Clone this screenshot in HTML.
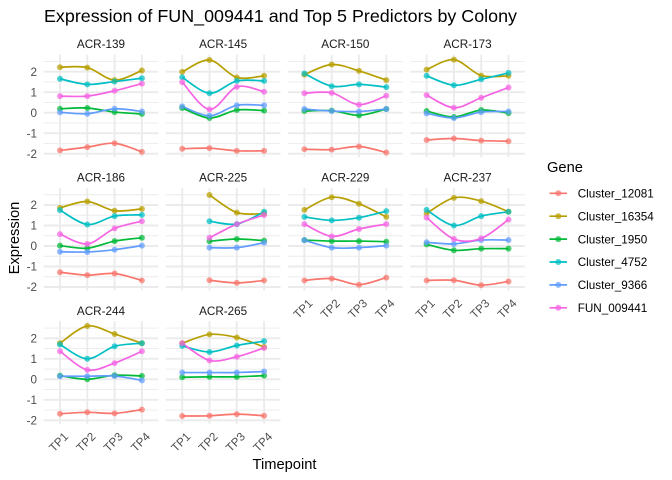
<!DOCTYPE html>
<html><head><meta charset="utf-8"><style>
html,body{margin:0;padding:0;background:#fff;}
svg{display:block;font-family:"Liberation Sans",Arial,sans-serif;}
</style></head><body>
<svg id="c" width="672" height="480" viewBox="0 0 672 480" xmlns="http://www.w3.org/2000/svg"></svg>
<script>
(function(){
var cols=["#F8766D","#B79F00","#00BA38","#00BFC4","#619CFF","#F564E3"];
var names=["Cluster_12081","Cluster_16354","Cluster_1950","Cluster_4752","Cluster_9366","FUN_009441"];
var N=null;
var panels=[
["ACR-139",[[-1.84,-1.68,-1.49,-1.91],[2.22,2.20,1.59,2.06],[0.19,0.23,0.03,-0.06],[1.65,1.38,1.52,1.68],[0.02,-0.05,0.19,0.06],[0.81,0.81,1.07,1.42]]],
["ACR-145",[[-1.76,-1.73,-1.86,-1.86],[1.99,2.57,1.72,1.80],[0.23,-0.26,0.13,0.10],[1.73,0.95,1.55,1.55],[0.31,-0.15,0.36,0.36],[1.49,0.16,1.26,1.02]]],
["ACR-150",[[-1.78,-1.80,-1.65,-1.94],[1.86,2.35,2.04,1.59],[0.08,0.10,-0.13,0.18],[1.91,1.29,1.38,1.25],[0.18,0.08,0.06,0.18],[0.95,0.97,0.39,0.83]]],
["ACR-173",[[-1.33,-1.26,-1.36,-1.39],[2.10,2.59,1.81,1.80],[0.08,-0.21,0.13,-0.02],[1.80,1.34,1.63,1.94],[-0.03,-0.26,0.03,0.06],[0.86,0.24,0.73,1.23]]],
["ACR-186",[[-1.28,-1.42,-1.34,-1.68],[1.86,2.17,1.72,1.81],[0.02,-0.11,0.24,0.40],[1.75,1.05,1.46,1.52],[-0.28,-0.29,-0.18,0.02],[0.58,0.10,0.86,1.21]]],
["ACR-225",[[N,-1.67,-1.80,-1.68],[N,2.49,1.63,1.58],[N,0.23,0.34,0.26],[N,1.21,1.07,1.67],[N,-0.08,-0.08,0.16],[N,0.40,1.07,1.51]]],
["ACR-229",[[-1.68,-1.59,-1.89,-1.54],[1.76,2.38,2.06,1.42],[0.29,0.24,0.24,0.21],[1.42,1.25,1.38,1.70],[0.28,-0.08,-0.08,0.02],[1.07,0.47,0.83,1.07]]],
["ACR-237",[[-1.68,-1.67,-1.91,-1.73],[1.59,2.35,2.19,1.67],[0.08,-0.21,-0.13,-0.13],[1.76,1.00,1.46,1.67],[0.18,0.10,0.29,0.29],[1.39,0.34,0.37,1.29]]],
["ACR-244",[[-1.68,-1.61,-1.66,-1.48],[1.76,2.60,2.21,1.76],[0.18,0.0,0.20,0.16],[1.70,1.00,1.61,1.76],[0.15,0.15,0.16,-0.05],[1.37,0.46,0.79,1.37]]],
["ACR-265",[[-1.79,-1.78,-1.70,-1.78],[1.76,2.19,2.04,1.58],[0.10,0.12,0.12,0.18],[1.63,1.33,1.65,1.86],[0.33,0.33,0.33,0.38],[1.76,0.92,1.10,1.53]]]
];
var X0=60,DX=27.3,CW=122.2,U=20.5,RH=133.3;
var s=[];
function f(v){return Math.round(v*100)/100;}
function smooth(p){
  if(p.length<2)return "";
  var t=0.16,d="M"+f(p[0][0])+","+f(p[0][1]);
  for(var i=0;i<p.length-1;i++){
    var p0=p[i-1]||p[i],p1=p[i],p2=p[i+1],p3=p[i+2]||p[i+1];
    var c1x=p1[0]+(p2[0]-p0[0])*t,c1y=p1[1]+(p2[1]-p0[1])*t;
    var c2x=p2[0]-(p3[0]-p1[0])*t,c2y=p2[1]-(p3[1]-p1[1])*t;
    d+=" C"+f(c1x)+","+f(c1y)+" "+f(c2x)+","+f(c2y)+" "+f(p2[0])+","+f(p2[1]);
  }
  return d;
}
s.push('<text x="44" y="22" font-size="17.6" fill="#000" textLength="473" lengthAdjust="spacingAndGlyphs">Expression of FUN_009441 and Top 5 Predictors by Colony</text>');
for(var k=0;k<panels.length;k++){
  var r=Math.floor(k/4),c=k%4;
  var Z=112.7+RH*r;
  var L=X0-0.6*DX+CW*c,R=L+4.2*DX,T=Z-2.83*U,B=Z+2.17*U;
  [-1.5,-0.5,0.5,1.5,2.5].forEach(function(v){var y=f(Z-v*U);s.push('<line x1="'+f(L)+'" x2="'+f(R)+'" y1="'+y+'" y2="'+y+'" stroke="#EBEBEB" stroke-width="0.95"/>');});
  [-2,-1,0,1,2].forEach(function(v){var y=f(Z-v*U);s.push('<line x1="'+f(L)+'" x2="'+f(R)+'" y1="'+y+'" y2="'+y+'" stroke="#EBEBEB" stroke-width="1.9"/>');});
  for(var i=0;i<4;i++){var x=f(X0+CW*c+DX*i);s.push('<line x1="'+x+'" x2="'+x+'" y1="'+f(T)+'" y2="'+f(B)+'" stroke="#EBEBEB" stroke-width="1.9"/>');}
  s.push('<text x="'+f((L+R)/2)+'" y="'+f(48.2+RH*r)+'" font-size="11.7" fill="#1A1A1A" text-anchor="middle">'+panels[k][0]+'</text>');
  if(c==0){[-2,-1,0,1,2].forEach(function(v){s.push('<text x="37" y="'+f(Z-v*U+4.2)+'" font-size="11.7" fill="#4D4D4D" text-anchor="end">'+(v<0?'-'+(-v):v)+'</text>');});}
  if(r==2||(r==1&&c>=2)){
    for(var i=0;i<4;i++){var x=X0+CW*c+DX*i+9,y=B+13.5;s.push('<text transform="translate('+f(x)+','+f(y)+') rotate(-45)" font-size="11.7" fill="#4D4D4D" text-anchor="end">TP'+(i+1)+'</text>');}
  }
  var d=panels[k][1];
  for(var g=0;g<6;g++){
    var pts=[];for(var i=0;i<4;i++){if(d[g][i]!==null)pts.push([X0+CW*c+DX*i,Z-d[g][i]*U]);}
    s.push('<path d="'+smooth(pts)+'" fill="none" stroke="'+cols[g]+'" stroke-width="1.7"/>');
  }
  for(var g=0;g<6;g++){
    for(var i=0;i<4;i++){if(d[g][i]!==null)s.push('<circle cx="'+f(X0+CW*c+DX*i)+'" cy="'+f(Z-d[g][i]*U)+'" r="3" fill="'+cols[g]+'" fill-opacity="0.72"/>');}
  }
}
s.push('<text x="284.5" y="469" font-size="14.7" fill="#000" text-anchor="middle">Timepoint</text>');
s.push('<text transform="translate(19,238) rotate(-90)" font-size="14.7" fill="#000" text-anchor="middle">Expression</text>');
s.push('<text x="547" y="172" font-size="14.7" fill="#000">Gene</text>');
for(var g=0;g<6;g++){
  var y=193.3+22.9*g;
  s.push('<line x1="549.5" x2="567" y1="'+f(y)+'" y2="'+f(y)+'" stroke="'+cols[g]+'" stroke-width="1.7"/>');
  s.push('<circle cx="558.3" cy="'+f(y)+'" r="3" fill="'+cols[g]+'" fill-opacity="0.72"/>');
  s.push('<text x="577.7" y="'+f(y+4.2)+'" font-size="11.7" fill="#000">'+names[g]+'</text>');
}
document.getElementById('c').innerHTML=s.join('');
})();
</script>
</body></html>
